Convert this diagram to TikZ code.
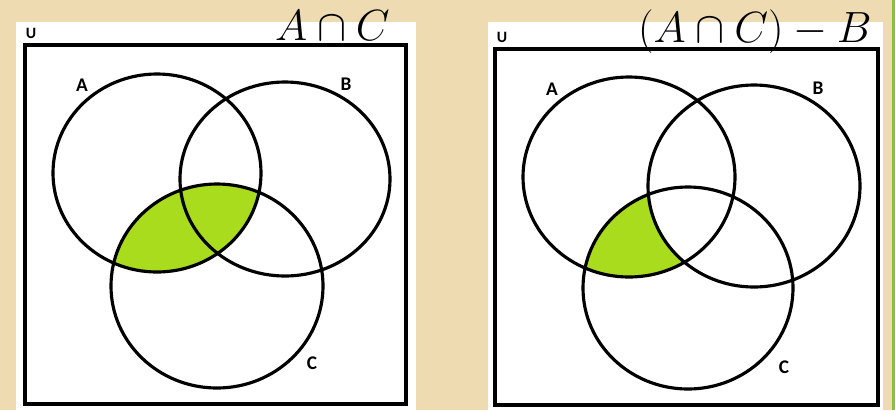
\documentclass[tikz,border=0pt]{standalone}
\usepackage{fontspec}
\setsansfont{Carlito}
\usepackage{tikz}
\usetikzlibrary{positioning}
\definecolor{parch}{RGB}{238,219,178}
\definecolor{setgreen}{RGB}{170,220,30}
\definecolor{slidegreen}{RGB}{140,190,60}

\begin{document}
\begin{tikzpicture}[
  x=0.02cm, y=-0.02cm,
  panel/.style={draw=black, line width=2.3pt},
  setline/.style={draw=black, line width=1.8pt},
  setlabel/.style={font=\sffamily\bfseries\fontsize{11}{13}\selectfont, inner sep=0pt},
  ulabel/.style={font=\sffamily\bfseries\small, inner sep=0pt},
  title/.style={font=\fontsize{24}{28}\selectfont, inner sep=0pt, anchor=base east}
]
% background
\fill[parch] (0,0) rectangle (895,410);
\fill[slidegreen] (892,0) rectangle (895,410);

% left panel: A cap C
\fill[white] (16,22) rectangle (416,410);
\draw[panel] (25,45) rectangle (406,404);
\begin{scope}
  \clip (157,173) ellipse [x radius=104, y radius=99];
  \fill[setgreen] (217,286) ellipse [x radius=106, y radius=102];
\end{scope}
\draw[setline] (157,173) ellipse [x radius=104, y radius=99];
\draw[setline] (285,179) ellipse [x radius=105, y radius=97];
\draw[setline] (217,286) ellipse [x radius=106, y radius=102];
\node[ulabel] (uleft) at (31,33) {U};
\node[setlabel] (aleft) at (82,85) {A};
\node[setlabel] (bleft) at (346,84) {B};
\node[setlabel] (cleft) at (312,363) {C};
\node[title] (tleft) at (390,40) {$A\cap C$};

% right panel: (A cap C) - B
\fill[white] (488,22) rectangle (883,410);
\draw[panel] (495,49) rectangle (878,405);
\begin{scope}
  \clip (629,177) ellipse [x radius=106, y radius=100];
  \clip (688,288) ellipse [x radius=105, y radius=101];
  \fill[setgreen] (629,177) ellipse [x radius=106, y radius=100];
  \fill[white] (754,186) ellipse [x radius=106, y radius=101];
\end{scope}
\draw[setline] (629,177) ellipse [x radius=106, y radius=100];
\draw[setline] (754,186) ellipse [x radius=106, y radius=101];
\draw[setline] (688,288) ellipse [x radius=105, y radius=101];
\node[ulabel] (uright) at (502,37) {U};
\node[setlabel] (aright) at (552,89) {A};
\node[setlabel] (bright) at (818,88) {B};
\node[setlabel] (cright) at (784,367) {C};
\node[title] (tright) at (872,42) {$(A\cap C)-B$};
\end{tikzpicture}
\end{document}
